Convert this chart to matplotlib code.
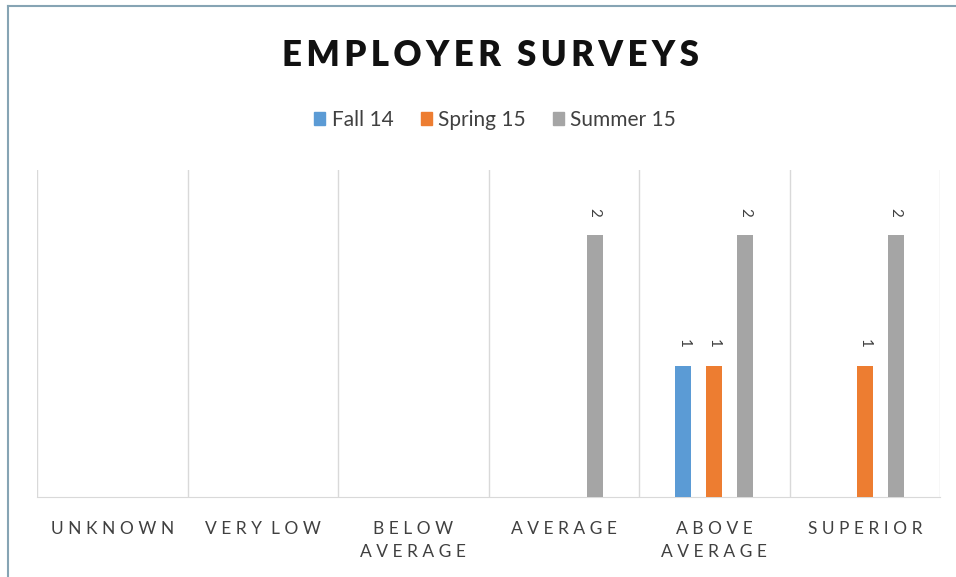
import matplotlib
matplotlib.use("Agg")
import matplotlib.pyplot as plt
import numpy as np
from matplotlib.lines import Line2D
from matplotlib.patches import Patch

categories = ["UNKNOWN", "VERY LOW", "BELOW\nAVERAGE", "AVERAGE", "ABOVE\nAVERAGE", "SUPERIOR"]
series_names = ["Fall 14", "Spring 15", "Summer 15"]
fall_14 = [0, 0, 0, 0, 1, 0]
spring_15 = [0, 0, 0, 0, 1, 1]
summer_15 = [0, 0, 0, 2, 2, 2]
colors = ["#5B9BD5", "#ED7D31", "#A5A5A5"]

plt.rcParams['font.family'] = ['Lato', 'DejaVu Sans']


def spaced(text, gap=" ", word_gap="  "):
    # widen letter spacing the way the office chart does it
    lines = []
    for line in text.split("\n"):
        words = [gap.join(w) for w in line.split(" ")]
        lines.append(word_gap.join(words))
    return "\n".join(lines)


fig = plt.figure(figsize=(9.56, 5.77), dpi=100)
ax = fig.add_axes([37 / 956, 1 - 497 / 577, 903 / 956, 327 / 577])

x = np.arange(len(categories))
offset = 0.205
width = 0.106
all_series = [fall_14, spring_15, summer_15]
for i, (vals, name, col) in enumerate(zip(all_series, series_names, colors)):
    pos = x + (i - 1) * offset
    ax.bar(pos, vals, width=width, color=col, label=name, zorder=3)
    for px, v in zip(pos, vals):
        if v:
            ax.annotate(str(v), (px, v), xytext=(0, 13), textcoords="offset points",
                        ha="center", va="bottom", rotation=270, fontsize=11,
                        color="#404040")

ax.set_xlim(-0.5, len(categories) - 0.5)
ax.set_ylim(0, 2.5)
ax.set_yticks([])
for b in np.arange(-0.5, len(categories), 1.0):
    ax.axvline(b, color="#D9D9D9", lw=1, zorder=1)
for s in ["top", "right", "left"]:
    ax.spines[s].set_visible(False)
ax.spines["bottom"].set_color("#D9D9D9")
ax.set_xticks(x)
ax.set_xticklabels([spaced(c) for c in categories], fontsize=12.5, color="#404040",
                   linespacing=1.55, va="top")
ax.tick_params(axis="x", length=0, pad=17)

fig.text(490 / 956, 1 - 56 / 577, spaced("EMPLOYER SURVEYS", gap="\u2009", word_gap="  "),
         ha="center", va="center", fontsize=25, fontweight="heavy", color="#111111")

handles = [Patch(color=c, label=n) for c, n in zip(colors, series_names)]
fig.legend(handles=handles, loc="center", bbox_to_anchor=(495 / 956, 1 - 120 / 577),
           ncol=3, frameon=False, fontsize=15, handlelength=0.53, handleheight=0.53,
           handletextpad=0.3, columnspacing=1.3, labelcolor="#404040")

# outer chart frame (left and top edges)
fig.add_artist(Line2D([8 / 956, 8 / 956], [0, 1 - 6 / 577], color="#86A4B4", lw=1.5))
fig.add_artist(Line2D([8 / 956, 1], [1 - 6 / 577, 1 - 6 / 577], color="#86A4B4", lw=1.5))

fig.savefig("out.png", dpi=100)
